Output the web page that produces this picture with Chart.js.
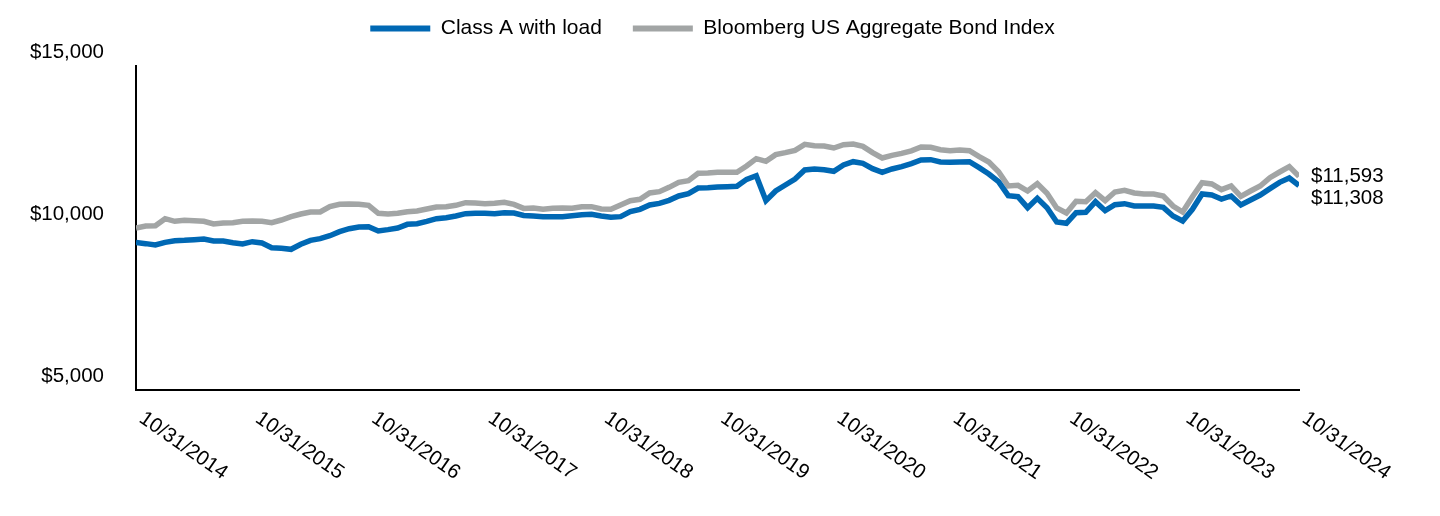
<!DOCTYPE html>
<html>
<head>
<meta charset="utf-8">
<script src="https://cdn.jsdelivr.net/npm/chart.js@4.4.1/dist/chart.umd.min.js"></script>
<style>
html,body{margin:0;padding:0;background:#fff;}
#wrap{width:1440px;height:516px;position:relative;}
</style>
</head>
<body>
<div id="wrap"><canvas id="chart"></canvas></div>
<script>

// yearly tick labels (one every 12 months)
const yearLabels = ["10/31/2014","10/31/2015","10/31/2016","10/31/2017","10/31/2018","10/31/2019",
"10/31/2020","10/31/2021","10/31/2022","10/31/2023","10/31/2024"];

const yTicks = [5000,10000,15000];

// monthly values, 10/2014 .. 10/2024
const classA = [
9550,9517,9475,9558,9609,9619,9640,9661,9599,9599,9547,9506,
9578,9537,9393,9373,9342,9496,9619,9671,9763,9887,9979,10031,
10041,9907,9949,10000,10113,10134,10206,10288,10319,10370,10442,10453,
10453,10442,10473,10463,10385,10370,10350,10350,10350,10381,10411,10422,
10370,10329,10350,10504,10576,10710,10761,10854,10988,11059,11234,11245,
11265,11275,11286,11502,11615,10844,11142,11327,11512,11790,11821,11800,
11749,11944,12047,11996,11831,11718,11821,11893,11985,12098,12109,12037,
12027,12037,12047,11862,11666,11430,10998,10967,10627,10916,10627,10185,
10144,10473,10484,10813,10535,10720,10751,10679,10679,10679,10638,10370,
10216,10576,11049,11018,10895,10988,10710,10864,11018,11214,11409,11543,
11308];

const bloomberg = [
10000,10062,10072,10288,10206,10237,10226,10206,10123,10154,10165,10206,
10216,10206,10165,10247,10350,10432,10494,10494,10658,10730,10741,10730,
10700,10453,10432,10453,10504,10525,10586,10648,10658,10700,10782,10772,
10751,10761,10792,10730,10605,10617,10576,10607,10617,10607,10658,10658,
10586,10576,10710,10844,10885,11080,11121,11255,11409,11461,11687,11697,
11718,11718,11718,11913,12140,12057,12263,12325,12397,12582,12541,12531,
12469,12572,12592,12520,12325,12160,12243,12304,12380,12500,12489,12417,
12386,12407,12386,12201,12037,11738,11296,11317,11142,11368,11070,10617,
10463,10823,10813,11090,10844,11111,11162,11080,11049,11049,10988,10679,
10494,10967,11399,11358,11183,11296,10977,11142,11296,11553,11728,11893,
11593];

const seriesNames = ["Class A with load","Bloomberg US Aggregate Bond Index"];
const seriesColors = ["#0068b4","#a2a5a5"];

const FONT = '"Liberation Sans", Arial, sans-serif';

function money(v)
{
return '$' + v.toLocaleString('en-US');
}

// legend takes the whole band above the plot, centred a bit right of the page
const legendSpace = {
id:'legendSpace',
beforeInit(chart){
if(!chart.legend) return;
const fit = chart.legend.fit;
chart.legend.fit = function(){
fit.call(this);
this.height = 66;
};
},
afterLayout(chart){
const lg = chart.legend;
if(!lg) return;
lg.left = 63;
lg.right = 1362;
lg.width = lg.right - lg.left;
lg.top = -13;
}
};

// slanted date labels under the x axis
const dateLabels = {
id:'dateLabels',
afterDraw(chart){
const sx = chart.scales.x;
const ctx = chart.ctx;
ctx.save();
ctx.font = '20.5px ' + FONT;
ctx.fillStyle = '#000';
ctx.textAlign = 'left';
ctx.textBaseline = 'alphabetic';
yearLabels.forEach((t,k)=>{
const px = sx.getPixelForValue(k*12);
ctx.save();
ctx.translate(px+2, chart.chartArea.bottom+31);
ctx.rotate(35*Math.PI/180);
ctx.fillText(t,0,0);
ctx.restore();
});
ctx.restore();
}
};

// end values next to the last points
const endLabels = {
id:'endLabels',
afterDatasetsDraw(chart){
const ctx = chart.ctx;
const items = chart.data.datasets.map((ds,i)=>{
const meta = chart.getDatasetMeta(i);
const pt = meta.data[meta.data.length-1];
return {x:pt.x, y:pt.y, v:ds.data[ds.data.length-1].y};
}).sort((a,b)=>a.y-b.y);
for(let i=1;i<items.length;i++){
if(items[i].y - items[i-1].y < 22) items[i].y = items[i-1].y + 22;
}
ctx.save();
ctx.font = '20.5px ' + FONT;
ctx.fillStyle = '#000';
ctx.textAlign = 'left';
ctx.textBaseline = 'middle';
items.forEach(it=>ctx.fillText(money(it.v), it.x+12, it.y));
ctx.restore();
}
};

const ctx = document.getElementById('chart').getContext('2d');

const chart = new Chart(ctx,{
type:'line',
data:{
datasets:[classA,bloomberg].map((arr,i)=>({
label:seriesNames[i],
data:arr.map((v,j)=>({x:j,y:v})),
borderColor:seriesColors[i],
backgroundColor:seriesColors[i],
borderWidth:5.5,
pointRadius:0,
tension:0,
fill:false
}))
},
options:{
responsive:true,
maintainAspectRatio:false,
animation:false,
layout:{padding:{left:20,right:141,top:0,bottom:0}},
plugins:{
legend:{
position:'top',
labels:{
boxWidth:60,
boxHeight:6,
padding:31,
color:'#000',
font:{family:FONT,size:21},
generateLabels(chart){
const items = Chart.defaults.plugins.legend.labels.generateLabels(chart);
items.forEach(it=>{ it.lineWidth = 0; it.strokeStyle = 'rgba(0,0,0,0)'; });
return items;
}
}
},
tooltip:{enabled:false}
},
scales:{
x:{
type:'linear',
min:0,
max:120,
grid:{display:false,drawTicks:false},
border:{display:true,color:'#000',width:2},
ticks:{display:false},
afterFit(s){ s.height = 126; }
},
y:{
min:5000,
max:15000,
grid:{display:false,drawTicks:false},
border:{display:true,color:'#000',width:2},
afterBuildTicks(s){ s.ticks = yTicks.map(v=>({value:v})); },
ticks:{
color:'#000',
padding:32,
labelOffset:-14,
font:{family:FONT,size:20.5},
callback:v=>money(v)
},
afterFit(s){ s.width = 116; }
}
}
},
plugins:[legendSpace,dateLabels,endLabels]
});

</script>
</body>
</html>
